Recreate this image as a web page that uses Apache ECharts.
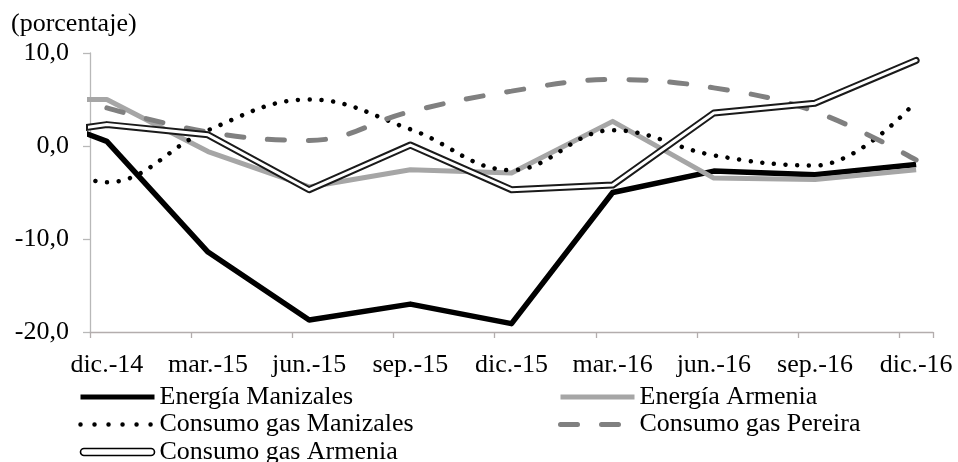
<!DOCTYPE html>
<html lang="es">
<head>
    <meta charset="UTF-8">
    <title>ECharts</title>
    <script src="https://cdn.jsdelivr.net/npm/echarts@6/dist/echarts.min.js"></script>
</head>
<body style="margin:0;background:#fff;">
    <div id="main" style="width:958px;height:462px;"></div>
    <script>
        // meses del eje (etiquetas cada trimestre)
        var months = ['dic.-14','ene.-15','feb.-15','mar.-15','abr.-15','may.-15','jun.-15','jul.-15','ago.-15',
            'sep.-15','oct.-15','nov.-15','dic.-15','ene.-16','feb.-16','mar.-16','abr.-16','may.-16',
            'jun.-16','jul.-16','ago.-16','sep.-16','oct.-16','nov.-16','dic.-16'];
        // datos trimestrales, el primero (sep.-14) queda fuera del eje
        var quarters = ['sep.-14','dic.-14','mar.-15','jun.-15','sep.-15','dic.-15','mar.-16','jun.-16','sep.-16','dic.-16'];
        var energiaManizales = [4.6, 0.5, -11.4, -18.7, -17.0, -19.1, -5.0, -2.7, -3.1, -2.0];
        var energiaArmenia = [5.0, 5.0, -0.6, -4.4, -2.55, -2.9, 2.65, -3.45, -3.6, -2.55];
        var gasManizales = [2.0, -3.9, 1.7, 5.0, 1.8, -2.6, 1.7, -1.0, -2.1, 4.8];
        var gasPereira = [null, 4.1, 1.5, 0.6, 3.7, 5.9, 7.15, 6.25, 3.7, -1.5];
        var gasArmenia = [0.8, 2.3, 1.2, -4.7, 0.1, -4.7, -4.2, 3.55, 4.6, 9.2];
        var yTicks = [-20, -10, 0, 10];

        var font = 'Liberation Serif, Times New Roman, serif';

        function toPoints(values) {
            var pts = [];
            for (var i = 0; i < values.length; i++) {
                if (values[i] === null) continue;
                pts.push([(i - 1) * 3, values[i]]);
            }
            return pts;
        }

        var legendBase = {
            orient: 'vertical', top: 384, height: 150, padding: 0,
            itemWidth: 74, itemHeight: 14, itemGap: 1.5,
            itemStyle: {opacity: 0},
            lineStyle: {width: 5},
            textStyle: {fontFamily: font, fontSize: 26, color: '#000', lineHeight: 22}
        };

        var myChart = echarts.init(document.getElementById('main'));
        var option = {
            animation: false,
            backgroundColor: '#fff',
            title: {
                text: '(porcentaje)',
                left: 11, top: 11, padding: 0,
                textStyle: {fontFamily: font, fontSize: 26, fontWeight: 'normal', color: '#000', lineHeight: 26}
            },
            grid: {left: 90, right: 25, top: 53, bottom: 130},
            legend: [Object.assign({}, legendBase, {
                left: 78,
                data: ['Energía Manizales', {
                    name: 'Consumo gas Manizales',
                    lineStyle: {width: 4.5, type: [0.01, 14]}
                }, {
                    name: 'Consumo gas Armenia',
                    icon: 'path://M3.5,0 L70.5,0 A3.5,3.5 0 0 1 70.5,7 L3.5,7 A3.5,3.5 0 0 1 3.5,0 Z',
                    itemStyle: {color: '#fff', borderColor: '#000', borderWidth: 1.6, opacity: 1}
                }]
            }), Object.assign({}, legendBase, {
                left: 558,
                data: ['Energía Armenia', 'Consumo gas Pereira']
            })],
            xAxis: [{
                // eje de datos (meses, dic.-14 = 0)
                type: 'value', show: false, position: 'top',
                min: -0.5, max: 24.5
            }, {
                // linea del cero con marcas trimestrales
                type: 'category', position: 'bottom', data: months, boundaryGap: true,
                axisLine: {show: true, onZero: true, lineStyle: {color: '#b3adad', width: 1.3}},
                axisTick: {show: true, interval: 2, length: 6, lineStyle: {color: '#b3adad', width: 1.3}},
                axisLabel: {show: false},
                splitLine: {show: false}
            }, {
                // etiquetas abajo
                type: 'category', position: 'bottom', data: months, boundaryGap: true,
                axisLine: {show: false, onZero: false},
                axisTick: {show: false},
                axisLabel: {interval: 2, margin: 20, fontFamily: font, fontSize: 26, color: '#000'},
                splitLine: {show: false}
            }],
            yAxis: {
                type: 'value', min: -20, max: 10, interval: 10,
                axisLine: {show: true, onZero: false, lineStyle: {color: '#b8b8b8', width: 1.3}},
                axisTick: {show: true, length: 7, lineStyle: {color: '#b8b8b8', width: 1.3}},
                axisLabel: {
                    margin: 21, fontFamily: font, fontSize: 26, color: '#000',
                    formatter: function (v) { return v.toFixed(1).replace('.', ','); }
                },
                splitLine: {show: false}
            },
            series: [{
                name: 'Energía Manizales', type: 'line', xAxisIndex: 0, symbol: 'none',
                lineStyle: {color: '#000', width: 5.5, join: 'round'},
                itemStyle: {color: '#000'},
                data: toPoints(energiaManizales)
            }, {
                name: 'Energía Armenia', type: 'line', xAxisIndex: 0, symbol: 'none',
                lineStyle: {color: '#a6a6a6', width: 5, join: 'round'},
                itemStyle: {color: '#a6a6a6'},
                data: toPoints(energiaArmenia)
            }, {
                name: 'Consumo gas Manizales', type: 'line', xAxisIndex: 0, symbol: 'none', smooth: 0.4,
                lineStyle: {color: '#000', width: 4.5, type: [0.01, 11.7], cap: 'round'},
                itemStyle: {color: '#000'},
                data: toPoints(gasManizales)
            }, {
                name: 'Consumo gas Pereira', type: 'line', xAxisIndex: 0, symbol: 'none', smooth: 0.4,
                lineStyle: {color: '#808080', width: 5, type: [17, 24], cap: 'round'},
                itemStyle: {color: '#808080'},
                data: toPoints(gasPereira)
            }, {
                name: 'Consumo gas Armenia', type: 'line', xAxisIndex: 0, symbol: 'none',
                lineStyle: {color: '#1a1a1a', width: 7, join: 'round', cap: 'round'},
                itemStyle: {color: '#1a1a1a'},
                data: toPoints(gasArmenia)
            }, {
                name: 'Consumo gas Armenia', type: 'line', xAxisIndex: 0, symbol: 'none',
                lineStyle: {color: '#fff', width: 3, join: 'round', cap: 'round'},
                itemStyle: {color: '#fff'},
                data: toPoints(gasArmenia)
            }]
        };
        myChart.setOption(option);
    </script>
</body>
</html>
